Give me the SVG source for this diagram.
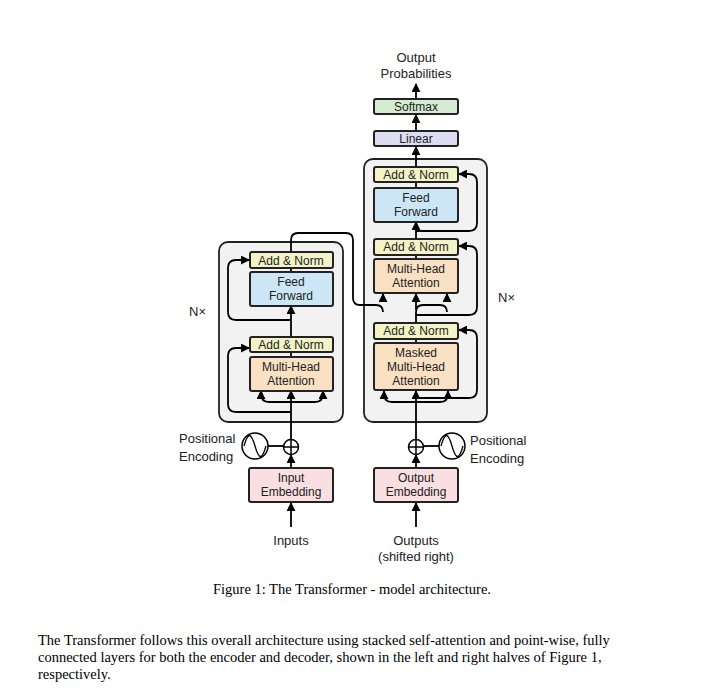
<svg xmlns="http://www.w3.org/2000/svg" width="705" height="700" viewBox="0 0 705 700">
<defs>
<marker id="ah" viewBox="0 0 10 10" refX="9" refY="5" markerWidth="5" markerHeight="5" orient="auto"><path d="M0,0L10,5L0,10z" fill="#000"/></marker>
<style>
.t{font-family:"Liberation Sans",Arial,sans-serif;font-size:12px;fill:#222;text-anchor:middle}
.l{font-family:"Liberation Sans",Arial,sans-serif;font-size:13px;fill:#222}
.c{font-family:"Liberation Serif","Times New Roman",serif;font-size:14.5px;fill:#000}
.b{stroke:#222;stroke-width:2;}
.an{fill:#f3f3c7}.ff{fill:#cce6f5}.mh{fill:#fbe1c3}.em{fill:#f9dfe1}.sm{fill:#d4ebd2}.li{fill:#dcdcf2}
.w{fill:none;stroke:#000;stroke-width:1.8}
.a{fill:none;stroke:#000;stroke-width:1.8;marker-end:url(#ah)}
</style>
</defs>
<rect width="705" height="700" fill="#fff"/>
<g id="encoder-box"><rect x="219" y="242" width="124" height="180" rx="9" fill="#f2f2f2" stroke="#222" stroke-width="1.8"/></g>
<g id="decoder-box"><rect x="364" y="159" width="123" height="263" rx="9" fill="#f2f2f2" stroke="#222" stroke-width="1.8"/></g>
<g id="connectors">
<!-- encoder -->
<path class="a" d="M291,527V503"/>
<path class="a" d="M291,468V455"/>
<path class="a" d="M291,439V391"/>
<path class="w" d="M291,412H236q-8,0-8,-8V356q0,-8,8,-8H249"/><path class="a" d="M236,348H249"/>
<path class="w" d="M291,402H269q-8,0-8,-8"/><path class="a" d="M261,396V391"/>
<path class="w" d="M291,402H315q8,0,8,-8"/><path class="a" d="M323,396V391"/>
<path class="w" d="M291,357V352"/>
<path class="a" d="M291,337V306"/>
<path class="w" d="M291,320H236q-8,0-8,-8V268q0,-8,8,-8H249"/><path class="a" d="M236,260H249"/>
<path class="w" d="M291,272V268"/>
<path class="w" d="M291,252V240q0,-7,7,-7H346q7,0,7,7V298q0,7,7,7H376q7,0,7,7"/><path class="a" d="M383,300V294"/>
<line x1="268" y1="446" x2="284" y2="446" stroke="#000" stroke-width="1.8"/>
<!-- decoder -->
<path class="a" d="M416,527V503"/>
<path class="a" d="M416,468V455"/>
<path class="a" d="M416,439V391"/>
<path class="w" d="M416,398H469q8,0,8,-8V338q0,-8,-8,-8H459"/><path class="a" d="M465,330H459"/>
<path class="w" d="M416,402H392q-8,0-8,-8"/><path class="a" d="M384,396V391"/>
<path class="w" d="M416,402H440q8,0,8,-8"/><path class="a" d="M448,396V391"/>
<path class="w" d="M416,343V339"/>
<path class="w" d="M416,323V312q0,-7,7,-7H440q7,0,7,7"/><path class="a" d="M447,300V294"/>
<path class="a" d="M416,310V294"/>
<path class="w" d="M416,315H469q8,0,8,-8V254q0,-8,-8,-8H459"/><path class="a" d="M465,246H459"/>
<path class="w" d="M416,259V255"/>
<path class="a" d="M416,239V222"/>
<path class="w" d="M416,231H469q8,0,8,-8V182q0,-8,-8,-8H459"/><path class="a" d="M465,174H459"/>
<path class="w" d="M416,188V183"/>
<path class="a" d="M416,167V147"/>
<path class="a" d="M416,131V115"/>
<path class="a" d="M416,99V84"/>
<line x1="423" y1="446" x2="439" y2="446" stroke="#000" stroke-width="1.8"/>
</g>
<g id="enc-addnorm2"><rect class="b an" x="250" y="252" width="83" height="16" rx="2"/><text class="t" x="291" y="264.5">Add &amp; Norm</text></g>
<g id="enc-ff"><rect class="b ff" x="250" y="272" width="83" height="34" rx="2"/><text class="t" x="291" y="286">Feed</text><text class="t" x="291" y="300">Forward</text></g>
<g id="enc-addnorm1"><rect class="b an" x="250" y="337" width="83" height="15" rx="2"/><text class="t" x="291" y="349">Add &amp; Norm</text></g>
<g id="enc-mha"><rect class="b mh" x="250" y="357" width="83" height="34" rx="2"/><text class="t" x="291" y="371">Multi-Head</text><text class="t" x="291" y="385">Attention</text></g>
<g id="input-emb"><rect class="b em" x="249" y="468" width="84" height="34" rx="2"/><text class="t" x="291" y="482">Input</text><text class="t" x="291" y="496">Embedding</text></g>
<g id="enc-plus"><circle cx="291" cy="447" r="7.5" fill="#fff" stroke="#000" stroke-width="1.5"/><path d="M283.5,447H298.5M291,439.5V454.5" stroke="#000" stroke-width="1.5"/></g>
<g id="enc-pe"><circle cx="255" cy="446" r="13" fill="#fff" stroke="#000" stroke-width="1.5"/><path d="M244,446c4,-14 7,-14 11,0s7,14 11,0" fill="none" stroke="#000" stroke-width="1.3"/><text class="l" x="179" y="443">Positional</text><text class="l" x="179" y="461">Encoding</text></g>
<g id="enc-nx"><text class="l" x="189" y="316">N×</text></g>
<g id="inputs"><text class="l" x="291" y="545" text-anchor="middle">Inputs</text></g>
<g id="dec-addnorm3"><rect class="b an" x="374" y="167" width="84" height="15" rx="2"/><text class="t" x="416" y="179">Add &amp; Norm</text></g>
<g id="dec-ff"><rect class="b ff" x="374" y="188" width="84" height="34" rx="2"/><text class="t" x="416" y="202">Feed</text><text class="t" x="416" y="216">Forward</text></g>
<g id="dec-addnorm2"><rect class="b an" x="374" y="239" width="84" height="16" rx="2"/><text class="t" x="416" y="251">Add &amp; Norm</text></g>
<g id="dec-mha"><rect class="b mh" x="374" y="259" width="84" height="34" rx="2"/><text class="t" x="416" y="273">Multi-Head</text><text class="t" x="416" y="287">Attention</text></g>
<g id="dec-addnorm1"><rect class="b an" x="374" y="323" width="84" height="16" rx="2"/><text class="t" x="416" y="335">Add &amp; Norm</text></g>
<g id="dec-mmha"><rect class="b mh" x="374" y="343" width="84" height="47" rx="2"/><text class="t" x="416" y="357">Masked</text><text class="t" x="416" y="371">Multi-Head</text><text class="t" x="416" y="385">Attention</text></g>
<g id="output-emb"><rect class="b em" x="374" y="468" width="84" height="34" rx="2"/><text class="t" x="416" y="482">Output</text><text class="t" x="416" y="496">Embedding</text></g>
<g id="dec-plus"><circle cx="416" cy="447" r="7.5" fill="#fff" stroke="#000" stroke-width="1.5"/><path d="M408.5,447H423.5M416,439.5V454.5" stroke="#000" stroke-width="1.5"/></g>
<g id="dec-pe"><circle cx="452" cy="446" r="13" fill="#fff" stroke="#000" stroke-width="1.5"/><path d="M441,446c4,-14 7,-14 11,0s7,14 11,0" fill="none" stroke="#000" stroke-width="1.3"/><text class="l" x="470" y="445">Positional</text><text class="l" x="470" y="463">Encoding</text></g>
<g id="dec-nx"><text class="l" x="498" y="302">N×</text></g>
<g id="linear"><rect class="b li" x="374" y="131" width="84" height="15" rx="2"/><text class="t" x="416" y="143">Linear</text></g>
<g id="softmax"><rect class="b sm" x="374" y="99" width="84" height="15" rx="2"/><text class="t" x="416" y="111">Softmax</text></g>
<g id="outprob"><text class="l" x="416" y="62" text-anchor="middle">Output</text><text class="l" x="416" y="78" text-anchor="middle">Probabilities</text></g>
<g id="outputs"><text class="l" x="416" y="545" text-anchor="middle">Outputs</text><text class="l" x="416" y="561" text-anchor="middle">(shifted right)</text></g>
<text class="c" x="352" y="594" text-anchor="middle">Figure 1: The Transformer - model architecture.</text>
<text class="c" x="38" y="645">The Transformer follows this overall architecture using stacked self-attention and point-wise, fully</text>
<text class="c" x="38" y="662">connected layers for both the encoder and decoder, shown in the left and right halves of Figure 1,</text>
<text class="c" x="38" y="679">respectively.</text>
</svg>
